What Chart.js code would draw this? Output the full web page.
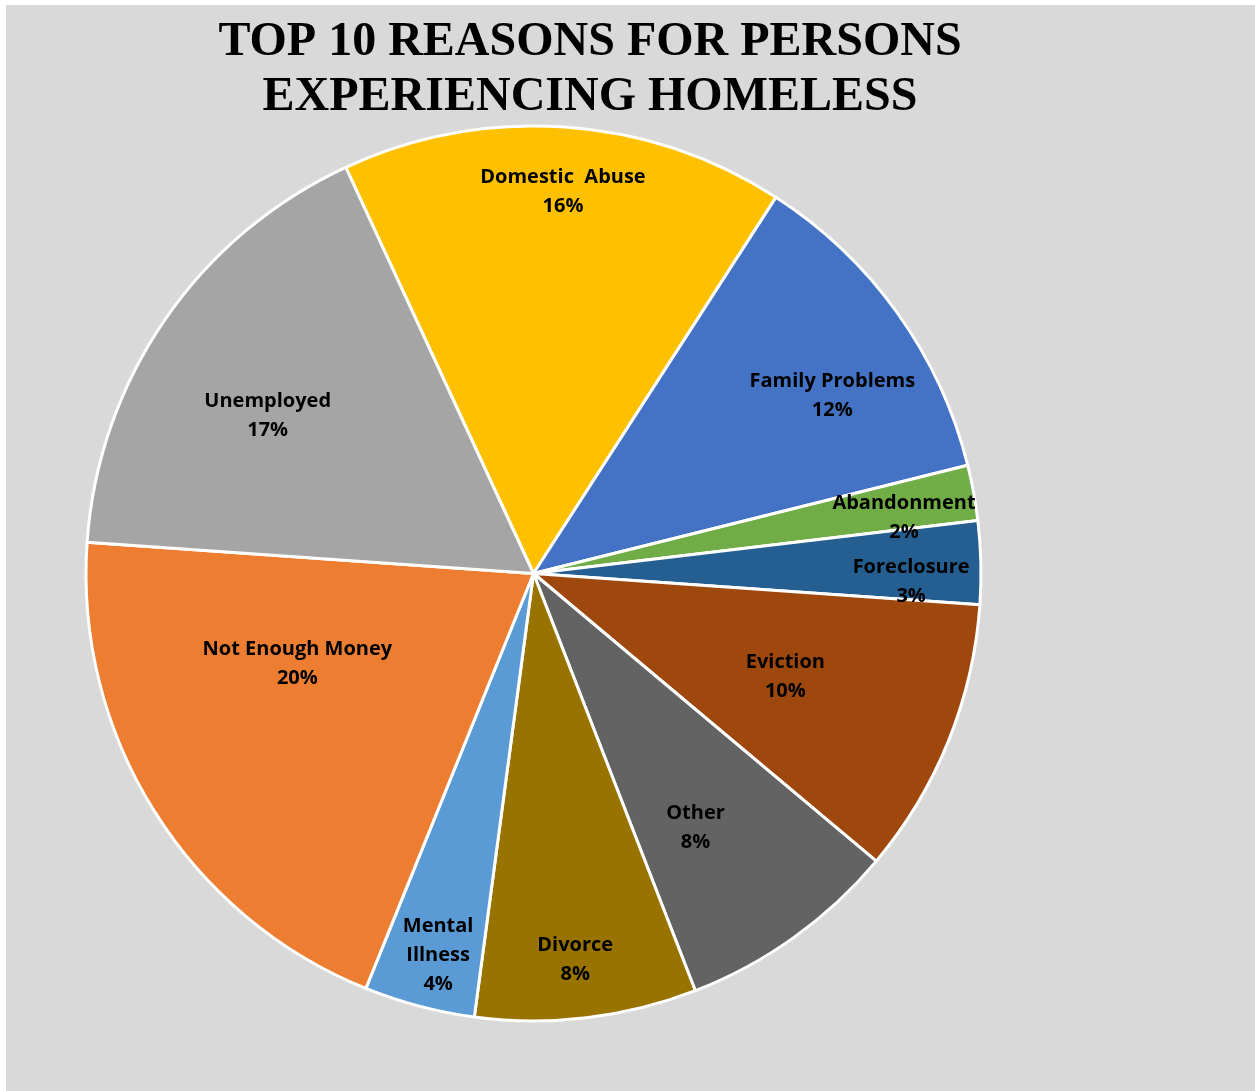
<!DOCTYPE html>
<html>
<head>
<meta charset="utf-8">
<title>Top 10 Reasons for Persons Experiencing Homeless</title>
<script src="https://cdn.jsdelivr.net/npm/chart.js@4/dist/chart.umd.min.js"></script>
<style>
	body {
		margin: 0;
		background: #ffffff;
	}
	#reasonsChart {
		display: block;
		margin: 5px 0 0 6px;
		background: #d9d9d9;
	}
</style>
</head>
<body>
<canvas id="reasonsChart" width="1249" height="1086"></canvas>
<script>
// Reasons, clockwise from the top
const reasons = [
	"Domestic  Abuse",
	"Family Problems",
	"Abandonment",
	"Foreclosure",
	"Eviction",
	"Other",
	"Divorce",
	"Mental Illness",
	"Not Enough Money",
	"Unemployed",
];
const percents = [16, 12, 2, 3, 10, 8, 8, 4, 20, 17];
const sliceColors = [
	"#ffc000",
	"#4472c4",
	"#70ad47",
	"#255e91",
	"#9e480e",
	"#636363",
	"#997300",
	"#5b9bd5",
	"#ed7d31",
	"#a5a5a5",
];
const titleLines = ["TOP 10 REASONS FOR PERSONS", "EXPERIENCING HOMELESS"];

// Label placement: angle nudge (deg) from slice middle, distance as share of radius
const labelPlace = [
	[0.4, 0.859],
	[4.6, 0.779],
	[1.5, 0.838],
	[2.4, 0.844],
	[0, 0.607],
	[2.9, 0.67],
	[0.6, 0.863],
	[-0.7, 0.875],
	[11.6, 0.563],
	[-3.6, 0.693],
];
const wrapped = { "Mental Illness": ["Mental", "Illness"] };

const titlePlugin = {
	id: "bigTitle",
	afterDraw(chart) {
		const ctx = chart.ctx;
		ctx.save();
		ctx.fillStyle = "#000000";
		ctx.font = "bold 48px 'Liberation Serif', 'Times New Roman', serif";
		ctx.textAlign = "center";
		ctx.textBaseline = "alphabetic";
		ctx.fillText(titleLines[0], 584, 50);
		ctx.fillText(titleLines[1], 584, 105);
		ctx.restore();
	},
};

const sliceLabels = {
	id: "sliceLabels",
	afterDatasetsDraw(chart) {
		const ctx = chart.ctx;
		const meta = chart.getDatasetMeta(0);
		ctx.save();
		ctx.fillStyle = "#000000";
		ctx.font = "bold 20px 'Open Sans', 'Noto Sans', sans-serif";
		ctx.textAlign = "center";
		ctx.textBaseline = "middle";
		meta.data.forEach((arc, i) => {
			const p = arc.getProps(["x", "y", "startAngle", "endAngle", "outerRadius"], true);
			const mid = (p.startAngle + p.endAngle) / 2 + (labelPlace[i][0] * Math.PI) / 180;
			const dist = p.outerRadius * labelPlace[i][1];
			const cx = p.x + Math.cos(mid) * dist;
			const cy = p.y + Math.sin(mid) * dist + 2;
			const lines = (wrapped[reasons[i]] || [reasons[i]]).concat([percents[i] + "%"]);
			const lineH = 29;
			const top = cy - ((lines.length - 1) * lineH) / 2;
			lines.forEach((t, j) => ctx.fillText(t, cx, top + j * lineH));
		});
		ctx.restore();
	},
};

new Chart(document.getElementById("reasonsChart"), {
	type: "pie",
	data: {
		labels: reasons,
		datasets: [
			{
				data: percents,
				backgroundColor: sliceColors,
				borderColor: "#ffffff",
				borderWidth: 3,
			},
		],
	},
	options: {
		responsive: false,
		animation: false,
		rotation: -24.8,
		layout: {
			padding: { left: 78.5, top: 119.5, right: 272.5, bottom: 68.5 },
		},
		plugins: {
			legend: { display: false },
			tooltip: { enabled: false },
		},
	},
	plugins: [titlePlugin, sliceLabels],
});
</script>
</body>
</html>
